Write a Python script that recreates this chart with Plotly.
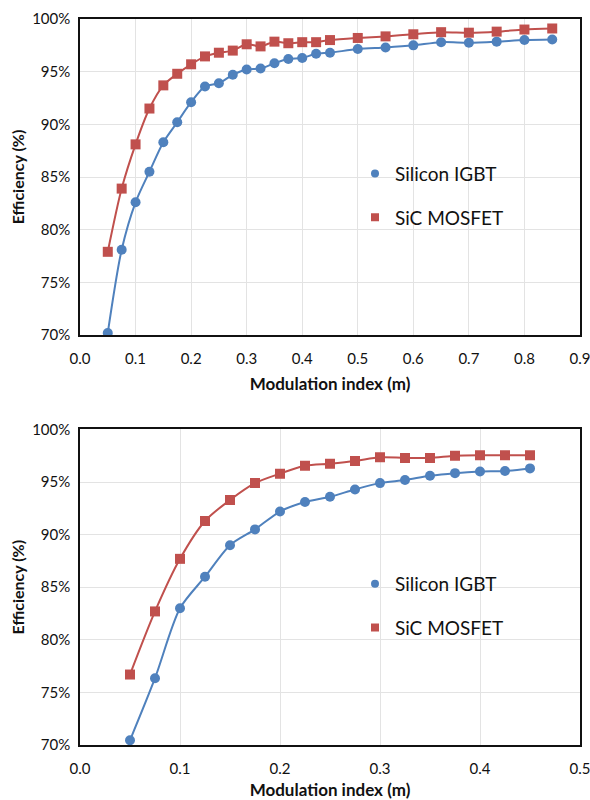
import plotly.graph_objects as go
from plotly.subplots import make_subplots

# ---- Top chart data ----
m_top = [0.05, 0.075, 0.1, 0.125, 0.15, 0.175, 0.2, 0.225, 0.25, 0.275, 0.3, 0.325,
         0.35, 0.375, 0.4, 0.425, 0.45, 0.5, 0.55, 0.6, 0.65, 0.7, 0.75, 0.8, 0.85]
igbt_top = [70.2, 78.1, 82.6, 85.5, 88.3, 90.2, 92.1, 93.6, 93.9, 94.7, 95.2, 95.3,
            95.8, 96.2, 96.3, 96.7, 96.8, 97.15, 97.3, 97.5, 97.8, 97.75, 97.85, 98.0, 98.05]
sic_top = [77.9, 83.9, 88.1, 91.5, 93.7, 94.8, 95.7, 96.45, 96.8, 97.0, 97.6, 97.4,
           97.85, 97.7, 97.8, 97.8, 98.0, 98.2, 98.35, 98.55, 98.75, 98.7, 98.8, 99.0, 99.1]

# ---- Bottom chart data ----
m_bot = [0.05, 0.075, 0.1, 0.125, 0.15, 0.175, 0.2, 0.225, 0.25, 0.275, 0.3, 0.325,
         0.35, 0.375, 0.4, 0.425, 0.45]
igbt_bot = [70.45, 76.35, 83.0, 86.0, 89.0, 90.5, 92.2, 93.1, 93.6, 94.3, 94.9, 95.2,
            95.6, 95.85, 96.0, 96.05, 96.3]
sic_bot = [76.7, 82.7, 87.7, 91.3, 93.3, 94.9, 95.8, 96.55, 96.75, 97.0, 97.35, 97.3,
           97.3, 97.5, 97.55, 97.55, 97.55]

names = ["Silicon IGBT", "SiC MOSFET"]
x_ticks_top = [0.0, 0.1, 0.2, 0.3, 0.4, 0.5, 0.6, 0.7, 0.8, 0.9]
x_ticks_bot = [0.0, 0.1, 0.2, 0.3, 0.4, 0.5]
y_ticks = [70, 75, 80, 85, 90, 95, 100]

BLUE = "#4F81BD"
RED = "#C0504D"
FONT = "Lato"

fig = make_subplots(rows=2, cols=1, vertical_spacing=0.13)

def add_series(x, y, color, symbol, row):
    fig.add_trace(go.Scatter(
        x=x, y=y, mode="lines+markers",
        line=dict(color=color, width=2, shape="spline", smoothing=0.8),
        marker=dict(color=color, symbol=symbol, size=10),
        showlegend=False, hoverinfo="skip"), row=row, col=1)

add_series(m_top, igbt_top, BLUE, "circle", 1)
add_series(m_top, sic_top, RED, "square", 1)
add_series(m_bot, igbt_bot, BLUE, "circle", 2)
add_series(m_bot, sic_bot, RED, "square", 2)

# legend-only entries (marker only)
for lg, row in (("legend", 1), ("legend2", 2)):
    for nm, color, sym in ((names[0], BLUE, "circle"), (names[1], RED, "square")):
        fig.add_trace(go.Scatter(
            x=[None], y=[None], mode="markers", name=nm,
            marker=dict(color=color, symbol=sym, size=8),
            legend=lg, legendgroup=lg + nm, showlegend=True), row=row, col=1)

fig.update_layout(
    width=590, height=800,
    margin=dict(l=80, r=10, t=19, b=55),
    paper_bgcolor="white", plot_bgcolor="white",
    font=dict(family=FONT, color="#111111", size=14),
    legend=dict(x=0.55, y=0.813, xanchor="left", yanchor="top",
                font=dict(size=19, family=FONT, color="#111"),
                bgcolor="rgba(0,0,0,0)", tracegroupgap=16, itemwidth=30),
    legend2=dict(x=0.55, y=0.248, xanchor="left", yanchor="top",
                 font=dict(size=19, family=FONT, color="#111"),
                 bgcolor="rgba(0,0,0,0)", tracegroupgap=16, itemwidth=30),
)

ax_common = dict(showline=True, linecolor="#111", linewidth=1.5, mirror=True,
                 showgrid=True, gridcolor="#E3E3E3", gridwidth=1, zeroline=False,
                 ticks="", automargin=False, ticklabeloverflow="allow",
                 tickfont=dict(size=15, family=FONT, color="#111"))

for r, rng, tv in ((1, [0, 0.9], x_ticks_top), (2, [0, 0.5], x_ticks_bot)):
    fig.update_xaxes(**ax_common, range=rng, tickvals=tv,
                     ticktext=[f"{v:.1f}" for v in tv], ticklabelstandoff=9,
                     title=dict(text="<b>Modulation index (m)</b>",
                                font=dict(size=17, family=FONT), standoff=12),
                     row=r, col=1)
for r in (1, 2):
    fig.update_yaxes(**ax_common, range=[70, 100], tickvals=y_ticks,
                     ticktext=[f"{v}%" for v in y_ticks], ticklabelstandoff=5,
                     title=dict(text="<b>Efficiency (%)</b>",
                                font=dict(size=16, family=FONT), standoff=4),
                     row=r, col=1)

fig.update_layout(
    xaxis=dict(domain=[0, 1]), xaxis2=dict(domain=[0, 1]),
    yaxis=dict(domain=[0.5647, 1.0]), yaxis2=dict(domain=[0.0, 0.4346]),
)

fig.write_html("out.html")
